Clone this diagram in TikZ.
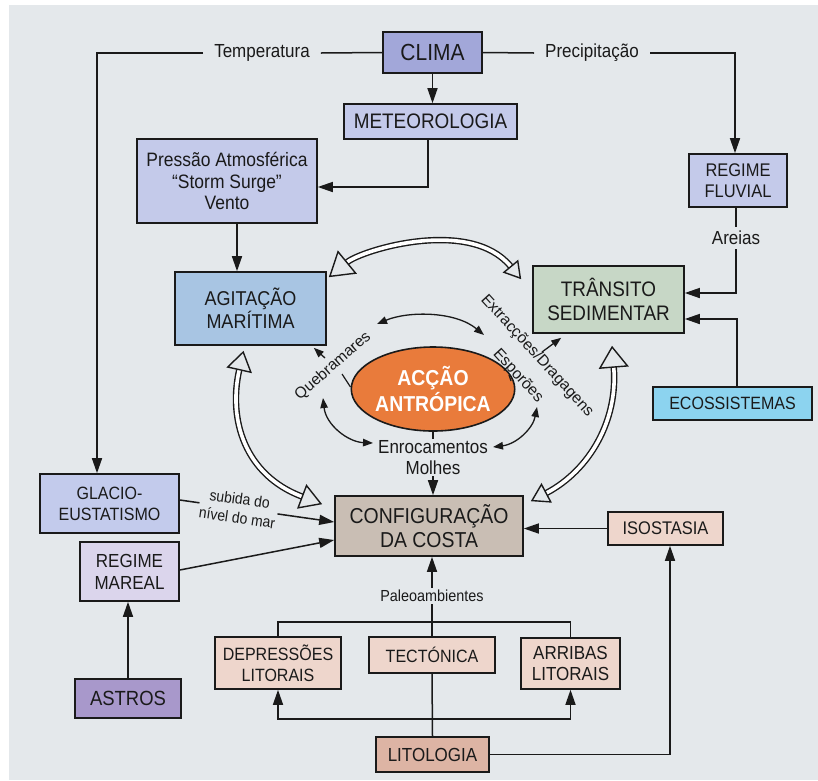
\documentclass[tikz,border=0pt]{standalone}
\usepackage{fontspec}
\setmainfont{Liberation Sans}[FakeStretch=0.9]
\newfontfamily\plainsans{Liberation Sans}
\usetikzlibrary{arrows.meta,shapes.geometric}
\definecolor{bg}{HTML}{E4E8EB}
\definecolor{climac}{HTML}{A2A7D9}
\definecolor{meteoc}{HTML}{C4CAEA}
\definecolor{agitc}{HTML}{A8C5E3}
\definecolor{transc}{HTML}{C7D7C6}
\definecolor{ecosc}{HTML}{8CD3EF}
\definecolor{accc}{HTML}{E97B3B}
\definecolor{configc}{HTML}{C9BEB4}
\definecolor{pinkc}{HTML}{EED6CC}
\definecolor{litoc}{HTML}{DDB4A4}
\definecolor{glacioc}{HTML}{C3CBEC}
\definecolor{marealc}{HTML}{DBD5EC}
\definecolor{astrosc}{HTML}{A898CB}
\definecolor{ink}{HTML}{1A1A1A}
\newcommand{\fsz}[2]{\fontsize{#1}{#2}\selectfont}
\tikzset{
  box/.style={draw=ink, line width=1.6pt, inner sep=0pt, align=center, text=ink},
  lbl/.style={font=\fsz{18.9}{21}, text=ink, inner xsep=11pt, inner ysep=2pt},
  rlbl/.style={font=\plainsans\fsz{15.7}{18}, text=ink, inner sep=1pt},
  conn/.style={draw=ink, line width=1.5pt, -{Triangle[length=15pt,width=10pt]}},
  ln/.style={draw=ink, line width=1.5pt},
  sln/.style={draw=ink, line width=1.2pt},
  sarr/.style={draw=ink, line width=1.3pt, {Triangle[length=10pt,width=7.5pt]}-{Triangle[length=10pt,width=7.5pt]}},
  sone/.style={draw=ink, line width=1.3pt, -{Triangle[length=10pt,width=7.5pt]}},
  bigarr/.style={draw=ink, line width=1.4pt, double=white, double distance=3.6pt},
}
\begin{document}
\begin{tikzpicture}[x=1pt,y=-1pt]
\useasboundingbox (0,0) rectangle (818,780);
\fill[bg] (9,5) rectangle (818,780);

% boxes
\node[box, fill=climac, minimum width=99pt, minimum height=41pt, font=\fsz{23.3}{25}] (clima) at (432.5,52.5) {CLIMA};
\node[box, fill=meteoc, minimum width=173pt, minimum height=35pt, font=\fsz{21}{23}] (meteo) at (430.5,121.5) {METEOROLOGIA};
\node[box, fill=meteoc, minimum width=180pt, minimum height=84pt, font=\fsz{19.4}{21.5}] (pressao) at (227,181) {Pressão Atmosférica\\“Storm Surge”\\Vento};
\node[box, fill=meteoc, minimum width=98pt, minimum height=53pt, font=\fsz{18.3}{20.5}] (fluvial) at (738,180.5) {REGIME\\FLUVIAL};
\node[box, fill=agitc, minimum width=151pt, minimum height=73pt, font=\fsz{20}{23}] (agit) at (250.5,308.5) {AGITAÇÃO\\MARÍTIMA};
\node[box, fill=transc, minimum width=151pt, minimum height=67pt, font=\fsz{21}{23.5}] (trans) at (608.5,299.5) {TRÂNSITO\\SEDIMENTAR};
\node[box, fill=ecosc, minimum width=159pt, minimum height=33pt, font=\fsz{17.8}{19}] (ecos) at (732.5,403.5) {ECOSSISTEMAS};
\node[ellipse, draw=ink, line width=1.6pt, fill=accc, minimum width=154pt, minimum height=84pt, inner sep=0pt, align=center, text=white, font=\bfseries\fsz{21.6}{26.5}] (acc) at (433,389) {ACÇÃO\\ANTRÓPICA};
\node[box, fill=configc, minimum width=188pt, minimum height=60pt, font=\fsz{21.6}{24}] (config) at (429,526) {CONFIGURAÇÃO\\DA COSTA};
\node[box, fill=pinkc, minimum width=115pt, minimum height=33pt, font=\fsz{18.3}{20}] (iso) at (665.5,528.5) {ISOSTASIA};
\node[box, fill=glacioc, minimum width=139pt, minimum height=59pt, font=\fsz{17.8}{21}] (glacio) at (109.5,503.5) {GLACIO-\\EUSTATISMO};
\node[box, fill=marealc, minimum width=99pt, minimum height=59pt, font=\fsz{18.9}{22}] (mareal) at (129.5,571.5) {REGIME\\MAREAL};
\node[box, fill=astrosc, minimum width=106pt, minimum height=39pt, font=\fsz{20.5}{22}] (astros) at (128,698.5) {ASTROS};
\node[box, fill=pinkc, minimum width=126pt, minimum height=52pt, font=\fsz{17.8}{21}] (dep) at (278,663) {DEPRESSÕES\\LITORAIS};
\node[box, fill=pinkc, minimum width=126pt, minimum height=36pt, font=\fsz{17.8}{20}] (tect) at (432,655) {TECTÓNICA};
\node[box, fill=pinkc, minimum width=99pt, minimum height=51pt, font=\fsz{18.9}{20.5}] (arrib) at (570.5,663.5) {ARRIBAS\\LITORAIS};
\node[box, fill=litoc, minimum width=113pt, minimum height=35pt, font=\fsz{18.9}{20}] (lito) at (432.5,754.5) {LITOLOGIA};

% labels
\node[lbl] (temp) at (262,53) {Temperatura};
\node[lbl] (prec) at (592,53) {Precipitação};
\node[lbl, inner xsep=1pt, inner ysep=4pt] (areias) at (736,238) {Areias};
\node[rlbl, font=\plainsans\fsz{15.5}{18}, rotate=41] (queb) at (333,366) {Quebramares};
\node[rlbl, rotate=-47.5] (extr) at (537,356) {Extracções/Dragagens};
\node[rlbl, rotate=-47.5] (espo) at (518,376) {Esporões};
\node[font=\fsz{18.9}{21}, text=ink, inner sep=1pt] (enro) at (433,447) {Enrocamentos};
\node[font=\fsz{18.9}{21}, text=ink, inner sep=1pt] (molh) at (433,468) {Molhes};
\node[font=\fsz{16}{18}, text=ink, inner sep=2pt] (paleo) at (432,596) {Paleoambientes};

% corner coordinates
\coordinate (tc) at (97,53);
\coordinate (pc) at (735,53);
\coordinate (ac) at (736,293);
\coordinate (ec) at (737,319);
\coordinate (mc) at (428,187);
\coordinate (hj) at (432,622);
\coordinate (lj) at (432,719);

% top connectors
\draw[ln] (clima.west) -- (temp.east);
\draw[conn] (temp.west) -- (tc) -- (tc |- glacio.north);
\draw[ln] (clima.east) -- (prec.west);
\draw[conn] (prec.east) -- (pc) -- (pc |- fluvial.north);
\draw[conn] (clima.south) -- (clima.south |- meteo.north);
\draw[conn] (meteo.south -| mc) -- (mc) -- (mc -| pressao.east);
\draw[conn] ([xshift=10pt]pressao.south) -- ([xshift=10pt]pressao.south |- agit.north);
\draw[ln] (fluvial.south -| areias.north) -- (areias.north);
\draw[conn] (areias.south) -- (ac) -- (ac -| trans.east);
\draw[conn] (ecos.north -| ec) -- (ec) -- (ec -| trans.east);

% left connectors
\draw[conn] ([yshift=3.5pt]glacio.east) -- node[pos=0.38, sloped, fill=bg, inner sep=1pt, font=\fsz{15.5}{19}, text=ink, align=center] {subida do\\nível do mar} ([yshift=4pt]config.west);
\draw[conn] ([yshift=1.5pt]mareal.east) -- ([yshift=-14pt]config.west);
\draw[conn] (astros.north) -- (astros.north |- mareal.south);

% right / bottom connectors
\draw[conn] (iso.west) -- (iso.west -| config.east);
\draw[conn] (lito.east) -| ([xshift=4.5pt]iso.south);
\draw[conn] (paleo.north) -- (paleo.north |- config.south);
\draw[ln] (paleo.south) -- (tect.north);
\draw[ln] (dep.north) |- (hj) -| (arrib.north);
\draw[ln] (lito.north) -- (tect.south);
\draw[conn] (lj) -| (dep.south);
\draw[conn] (lj) -| (arrib.south);

% centre connectors
\draw[sln] (acc.south) -- (enro.north);
\draw[conn] (molh.south) -- (molh.south |- config.north);
\coordinate (qt) at (342,374);
\draw[sln] (qt) -- ([yshift=2pt]acc.west);
\coordinate (qa) at (325,358);
\draw[sone] (qa) -- ([xshift=-13pt,yshift=-2pt]agit.south east);
\coordinate (xa) at (542,352);
\draw[sone] (xa) -- ([xshift=29pt,yshift=-4pt]trans.south west);
\draw[sln] (509,375) -- (511,381);
\coordinate (t1) at (377,324);
\coordinate (t2) at (484,335);
\draw[sarr] (t1) .. controls (408,311) and (455,311) .. (t2);
\coordinate (b1) at (323,398);
\coordinate (b2) at (373,443);
\draw[sarr] (b1) .. controls (326,425) and (348,442) .. (b2);
\coordinate (b3) at (493,447);
\coordinate (b4) at (537,407);
\draw[sarr] (b3) .. controls (517,444) and (533,428) .. (b4);

% big double arrows
\draw[bigarr, {Triangle[open,length=24pt,width=30pt,line width=1.4pt]}-{Triangle[open,length=17pt,width=20pt,line width=1.4pt]}]
  ([xshift=2pt,yshift=-6pt]agit.north east) .. controls (362,250) and (470,217) .. ([xshift=-11pt,yshift=-14pt]trans.north west);
\draw[bigarr, {Triangle[open,length=20pt,width=26pt,line width=1.4pt]}-{Triangle[open,length=22pt,width=26pt,line width=1.4pt]}]
  ([xshift=-7pt,yshift=-5pt]agit.south) .. controls (228,420) and (245,475) .. ([xshift=-12pt,yshift=-9pt]config.north west);
\draw[bigarr, {Triangle[open,length=22pt,width=30pt,line width=1.4pt]}-{Triangle[open,length=18pt,width=22pt,line width=1.4pt]}]
  ([xshift=3.5pt,yshift=-12pt]trans.south) .. controls (618,420) and (590,470) .. ([xshift=7pt,yshift=-6pt]config.north east);
\end{tikzpicture}
\end{document}
